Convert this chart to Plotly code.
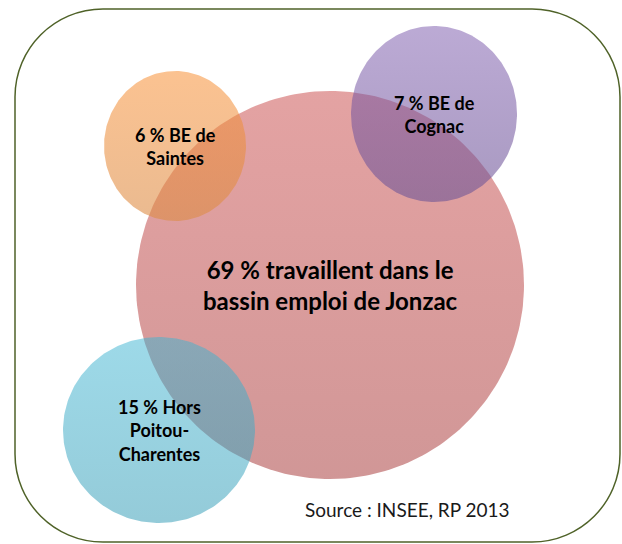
import numpy as np
import plotly.graph_objects as go

# ---- data ----
zones = ["Jonzac", "Saintes", "Cognac", "Hors"]
shares = [69, 6, 7, 15]
label_text = [
    "travaillent dans le<br>bassin emploi de Jonzac",
    "BE de<br>Saintes",
    "BE de<br>Cognac",
    "Hors<br>Poitou-<br>Charentes",
]
source_text = "Source : INSEE, RP 2013"

# ---- styles / geometry (pixel space, y measured from top) ----
W, H = 622, 544
geom = {
    "Jonzac": (330, 285, 194, 194),
    "Saintes": (175, 146, 71, 75),
    "Cognac": (434, 114, 83, 88),
    "Hors": (159, 430, 96, 93),
}
grad = {
    "Jonzac": ("rgba(200,70,70,0.50)", "rgba(175,75,75,0.58)"),
    "Saintes": ("rgba(248,145,55,0.55)", "rgba(220,140,70,0.60)"),
    "Cognac": ("rgba(120,85,170,0.50)", "rgba(110,85,150,0.60)"),
    "Hors": ("rgba(60,180,210,0.50)", "rgba(60,160,185,0.55)"),
}
font_sizes = {"Jonzac": 24, "Saintes": 18, "Cognac": 18, "Hors": 18}

fig = go.Figure()
t = np.linspace(0, 2 * np.pi, 241)
for z in zones:
    cx, cy, rx, ry = geom[z]
    xs = cx + rx * np.cos(t)
    ys = (H - cy) + ry * np.sin(t)
    top, bot = grad[z]
    fig.add_trace(go.Scatter(
        x=xs, y=ys, mode="lines", fill="toself",
        line=dict(width=0, color="rgba(0,0,0,0)"),
        fillgradient=dict(type="vertical",
                          colorscale=[[0, bot], [1, top]],
                          start=H - cy - ry, stop=H - cy + ry),
        hoverinfo="skip", showlegend=False,
    ))

for z, s, lt in zip(zones, shares, label_text):
    cx, cy, rx, ry = geom[z]
    fig.add_annotation(
        x=cx, y=H - cy, text=f"<b>{s} % {lt}</b>", showarrow=False,
        font=dict(family="Lato", size=font_sizes[z], color="#000000"),
        align="center", xanchor="center", yanchor="middle",
    )

fig.add_annotation(
    x=407, y=H - 509, text=source_text, showarrow=False,
    font=dict(family="Lato", size=19, color="#1a1a1a"),
    xanchor="center", yanchor="middle",
)

# rounded rectangle frame
x0, x1, y0, y1, r = 15, 620, H - 542, H - 9, 88
k = 0.5523 * r
path = (
    f"M {x0 + r},{y1} L {x1 - r},{y1} "
    f"C {x1 - r + k},{y1} {x1},{y1 - r + k} {x1},{y1 - r} "
    f"L {x1},{y0 + r} "
    f"C {x1},{y0 + r - k} {x1 - r + k},{y0} {x1 - r},{y0} "
    f"L {x0 + r},{y0} "
    f"C {x0 + r - k},{y0} {x0},{y0 + r - k} {x0},{y0 + r} "
    f"L {x0},{y1 - r} "
    f"C {x0},{y1 - r + k} {x0 + r - k},{y1} {x0 + r},{y1} Z"
)
fig.add_shape(type="path", path=path, xref="x", yref="y",
              line=dict(color="rgb(79,98,40)", width=1.5), layer="below")

fig.update_layout(
    width=W, height=H, margin=dict(l=0, r=0, t=0, b=0),
    paper_bgcolor="white", plot_bgcolor="white",
    xaxis=dict(range=[0, W], visible=False, fixedrange=True),
    yaxis=dict(range=[0, H], visible=False, fixedrange=True),
    showlegend=False,
)
fig.write_html("out.html", config={"displayModeBar": False},
               post_script="document.body.style.margin='0';document.body.style.overflow='hidden';")
